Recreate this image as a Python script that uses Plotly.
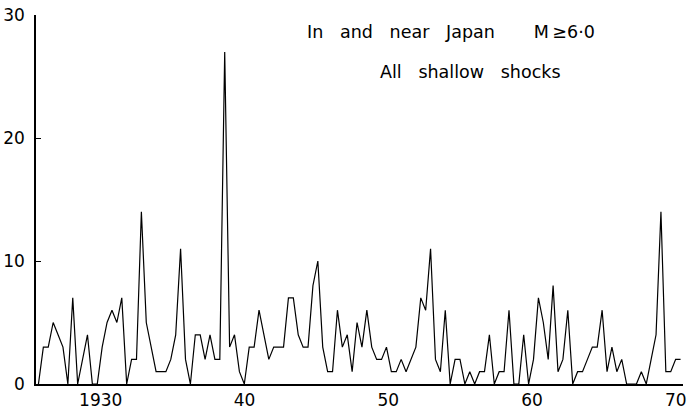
import plotly.graph_objects as go

# Number of shallow shocks (M >= 6.0) in and near Japan, per counting interval, 1926-1970
counts = [
    0, 3, 3, 5, 4, 3, 0, 7, 0, 2, 4, 0, 0, 3, 5, 6, 5, 7, 0, 2,
    2, 14, 5, 3, 1, 1, 1, 2, 4, 11, 2, 0, 4, 4, 2, 4, 2, 2, 27, 3,
    4, 1, 0, 3, 3, 6, 4, 2, 3, 3, 3, 7, 7, 4, 3, 3, 8, 10, 3, 1,
    1, 6, 3, 4, 1, 5, 3, 6, 3, 2, 2, 3, 1, 1, 2, 1, 2, 3, 7, 6,
    11, 2, 1, 6, 0, 2, 2, 0, 1, 0, 1, 1, 4, 0, 1, 1, 6, 0, 0, 4,
    0, 2, 7, 5, 2, 8, 1, 2, 6, 0, 1, 1, 2, 3, 3, 6, 1, 3, 1, 2,
    0, 0, 0, 1, 0, 2, 4, 14, 1, 1, 2, 2,
]

first_year = 1925.5      # left end of the time axis
span_years = 45.0        # length of the time axis
step = span_years / len(counts)   # years per counting interval

tick_years = [1930, 1940, 1950, 1960, 1970]
tick_text = ["1930", "40", "50", "60", "70"]
y_ticks = [0, 10, 20, 30]

title_line1 = "In   and   near   Japan       M\u2009≥6·0"
title_line2 = "All   shallow   shocks"

years = [first_year + (i + 0.5) * step for i in range(len(counts))]

fig = go.Figure()
fig.add_trace(go.Scatter(
    x=years, y=counts, mode="lines",
    line=dict(color="black", width=1.2),
    hoverinfo="skip", showlegend=False,
))

font = dict(family="DejaVu Sans", size=17, color="black")
note_font = dict(family="DejaVu Sans", size=17.5, color="black")


def nbsp(s):
    # keep runs of spaces in the SVG text
    return s.replace(" ", "\u00a0")


fig.update_layout(
    width=691, height=409,
    margin=dict(l=36, r=8, t=15, b=25),
    paper_bgcolor="white", plot_bgcolor="white",
    font=font,
    xaxis=dict(
        range=[first_year, first_year + span_years],
        tickvals=tick_years, ticktext=tick_text,
        showgrid=False, zeroline=False,
        showline=True, linecolor="black", linewidth=1.5,
        ticks="", tickfont=font,
        automargin=False,
    ),
    yaxis=dict(
        range=[0, 30],
        tickvals=y_ticks,
        showgrid=False, zeroline=False,
        showline=True, linecolor="black", linewidth=1.5,
        ticks="inside", ticklen=5, tickcolor="black", tickwidth=1.2,
        tickfont=font, ticklabelstandoff=6,
        automargin=False,
    ),
    annotations=[
        dict(text=nbsp(title_line1),
             xref="paper", yref="paper", x=0.4158, y=0.955,
             xanchor="left", yanchor="middle",
             showarrow=False, font=note_font),
        dict(text=nbsp(title_line2),
             xref="paper", yref="paper", x=0.5286, y=0.845,
             xanchor="left", yanchor="middle",
             showarrow=False, font=note_font),
    ],
)

fig.write_html("out.html")
